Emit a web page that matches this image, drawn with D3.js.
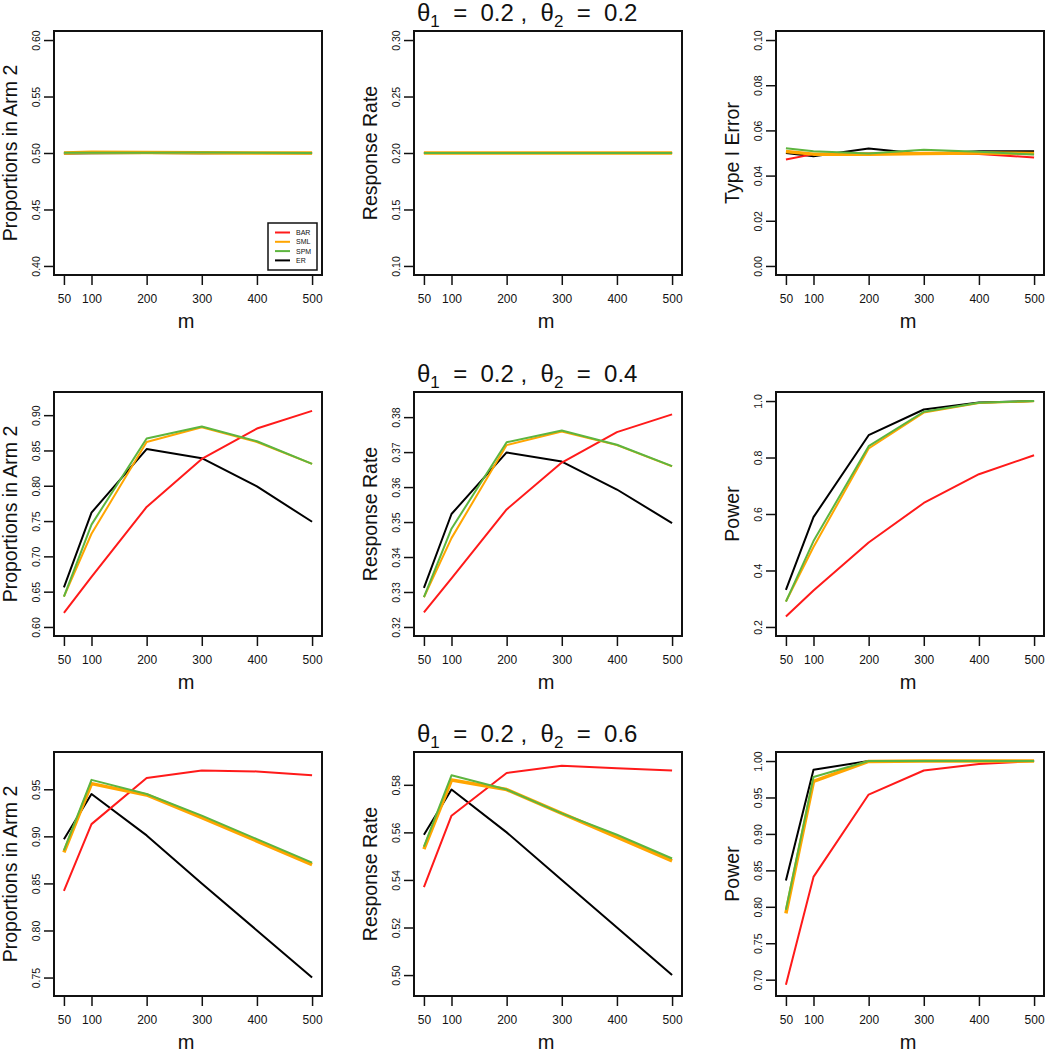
<!DOCTYPE html>
<html>
<head>
<meta charset="utf-8">
<script src="https://cdn.jsdelivr.net/npm/d3@7"></script>
<style>
body { margin: 0; background: #fff; }
svg text { font-family: "Liberation Sans", Arial, Helvetica, sans-serif; fill: #111; }
</style>
</head>
<body>
<div class="container"></div>
<script>
var mValues = [50, 100, 200, 300, 400, 500];
var methods = ['BAR', 'SML', 'SPM', 'ER'];
var theta1 = 0.2;
var theta2 = [0.2, 0.4, 0.6];
var colLabels = ['Proportions in Arm 2', 'Response Rate'];
var thirdLabels = ['Type I Error', 'Power', 'Power'];

// theta2 = 0.2  (rows: BAR, SML, SPM, ER)
var prop1 = [
  [0.5000, 0.5000, 0.5000, 0.5000, 0.5000, 0.5000],
  [0.5000, 0.5007, 0.5004, 0.5002, 0.5000, 0.5000],
  [0.5002, 0.5003, 0.5002, 0.5004, 0.5002, 0.5001],
  [0.4996, 0.4998, 0.4999, 0.4998, 0.4999, 0.4998]
];
var resp1 = [
  [0.2000, 0.2000, 0.2000, 0.2000, 0.2000, 0.2000],
  [0.2000, 0.2001, 0.2000, 0.2000, 0.2000, 0.2000],
  [0.2001, 0.2001, 0.2001, 0.2001, 0.2001, 0.2001],
  [0.2000, 0.2000, 0.2000, 0.2000, 0.2000, 0.2000]
];
var err1 = [
  [0.0471, 0.0495, 0.0498, 0.0498, 0.0496, 0.0480],
  [0.0507, 0.0495, 0.0495, 0.0498, 0.0500, 0.0498],
  [0.0521, 0.0508, 0.0498, 0.0514, 0.0505, 0.0493],
  [0.0500, 0.0486, 0.0520, 0.0496, 0.0508, 0.0508]
];
// theta2 = 0.4
var prop2 = [
  [0.620, 0.671, 0.770, 0.838, 0.881, 0.906],
  [0.643, 0.732, 0.862, 0.883, 0.862, 0.831],
  [0.643, 0.745, 0.867, 0.884, 0.863, 0.831],
  [0.656, 0.762, 0.852, 0.839, 0.799, 0.749]
];
var resp2 = [
  [0.3242, 0.3339, 0.3536, 0.3670, 0.3757, 0.3808],
  [0.3285, 0.3454, 0.3720, 0.3759, 0.3720, 0.3659],
  [0.3285, 0.3481, 0.3728, 0.3762, 0.3721, 0.3660],
  [0.3312, 0.3523, 0.3699, 0.3673, 0.3593, 0.3497]
];
var pow2 = [
  [0.237, 0.329, 0.499, 0.639, 0.741, 0.808],
  [0.290, 0.483, 0.832, 0.959, 0.993, 0.999],
  [0.290, 0.504, 0.840, 0.962, 0.994, 1.000],
  [0.331, 0.589, 0.879, 0.970, 0.995, 1.000]
];
// theta2 = 0.6
var prop3 = [
  [0.842, 0.913, 0.962, 0.970, 0.969, 0.965],
  [0.883, 0.956, 0.944, 0.920, 0.895, 0.870],
  [0.885, 0.960, 0.945, 0.922, 0.897, 0.872],
  [0.897, 0.945, 0.901, 0.850, 0.800, 0.750]
];
var resp3 = [
  [0.537, 0.567, 0.585, 0.588, 0.587, 0.586],
  [0.553, 0.582, 0.578, 0.568, 0.558, 0.548],
  [0.554, 0.584, 0.578, 0.568, 0.559, 0.549],
  [0.559, 0.578, 0.560, 0.540, 0.520, 0.500]
];
var pow3 = [
  [0.693, 0.841, 0.954, 0.987, 0.996, 1.000],
  [0.791, 0.972, 0.9995, 1.000, 1.000, 1.000],
  [0.796, 0.978, 1.000, 1.000, 1.000, 1.000],
  [0.836, 0.988, 1.000, 1.000, 1.000, 1.000]
];

// y limits and tick labels per panel
var ylims = [
  [[0.40, 0.60], [0.10, 0.30], [0.00, 0.10]],
  [[0.60, 0.92], [0.32, 0.3846], [0.20, 1.00]],
  [[0.74, 0.98], [0.495, 0.59], [0.69, 1.00]]
];
var yticks = [
  [['0.40', '0.45', '0.50', '0.55', '0.60'], ['0.10', '0.15', '0.20', '0.25', '0.30'], ['0.00', '0.02', '0.04', '0.06', '0.08', '0.10']],
  [['0.60', '0.65', '0.70', '0.75', '0.80', '0.85', '0.90'], ['0.32', '0.33', '0.34', '0.35', '0.36', '0.37', '0.38'], ['0.2', '0.4', '0.6', '0.8', '1.0']],
  [['0.75', '0.80', '0.85', '0.90', '0.95'], ['0.50', '0.52', '0.54', '0.56', '0.58'], ['0.70', '0.75', '0.80', '0.85', '0.90', '0.95', '1.00']]
];
var panels = [[prop1, resp1, err1], [prop2, resp2, pow2], [prop3, resp3, pow3]];

var colors = ['#ff1a1a', '#ffa500', '#5db53f', '#000000'];
var drawOrder = [3, 0, 1, 2]; // ER underneath, SPM on top

var colLeft = [54, 414, 776];
var rowTop = [31, 392, 752];
var boxW = 268, boxH = 244;

var svg = d3.select('.container')
    .append('svg')
    .attr('width', 1045)
    .attr('height', 1050);

function drawPanel(r, c) {
    var px = colLeft[c], py = rowTop[r];
    var lim = ylims[r][c];
    var ext = (lim[1] - lim[0]) * 0.04;
    var labels = yticks[r][c];

    var x = d3.scaleLinear().domain([32, 518]).range([px, px + boxW]);
    var y = d3.scaleLinear().domain([lim[0] - ext, lim[1] + ext]).range([py + boxH, py]);

    var g = svg.append('g');

    // x axis
    var xa = g.append('g')
        .attr('transform', 'translate(0,' + (py + boxH) + ')')
        .call(d3.axisBottom(x).tickValues(mValues).tickSize(10).tickPadding(9).tickFormat(d3.format('d')));
    xa.select('.domain').remove();
    xa.selectAll('line').style('stroke', '#111').style('stroke-width', 1.5);
    xa.selectAll('text').style('font-size', '12px').attr('fill', '#111');

    // y axis, labels turned like R does
    var ya = g.append('g')
        .attr('transform', 'translate(' + px + ',0)')
        .call(d3.axisLeft(y).tickValues(labels.map(Number)).tickSize(10).tickFormat(function (d, i) { return labels[i]; }));
    ya.select('.domain').remove();
    ya.selectAll('line').style('stroke', '#111').style('stroke-width', 1.5);
    ya.selectAll('text')
        .attr('transform', 'rotate(-90)')
        .attr('x', 0)
        .attr('y', -14.5)
        .attr('dy', 0)
        .attr('text-anchor', 'middle')
        .attr('fill', '#222')
        .style('font-size', '10.5px');

    // series
    var line = d3.line()
        .x(function (d, i) { return x(mValues[i]); })
        .y(function (d) { return y(d); });

    var series = drawOrder.map(function (k) { return { k: k, v: panels[r][c][k] }; });

    g.selectAll('path.series')
        .data(series)
        .enter()
        .append('path')
        .attr('class', 'series')
        .attr('d', function (d) { return line(d.v); })
        .style('fill', 'none')
        .style('stroke', function (d) { return colors[d.k]; })
        .style('stroke-width', function (d) { return (d.k == 1 && r != 1) ? 3.5 : 2; })
        .style('stroke-linejoin', 'round');

    // box
    g.append('rect')
        .attr('x', px)
        .attr('y', py)
        .attr('width', boxW)
        .attr('height', boxH)
        .style('fill', 'none')
        .style('stroke', '#111')
        .style('stroke-width', 2);

    // axis titles
    g.append('text')
        .attr('x', px + boxW / 2 - 2)
        .attr('y', py + boxH + 53)
        .attr('text-anchor', 'middle')
        .style('font-size', '20px')
        .text('m');

    var ylab = c < 2 ? colLabels[c] : thirdLabels[r];
    g.append('text')
        .attr('transform', 'translate(' + (px - 37) + ',' + (py + boxH / 2) + ') rotate(-90)')
        .attr('text-anchor', 'middle')
        .style('font-size', '19.5px')
        .text(ylab);

    // title over the middle column (plotmath style)
    if (c == 1) {
      var t = g.append('text')
          .attr('x', px + 3)
          .attr('y', py - 10)
          .style('font-size', '24px')
          .style('white-space', 'pre');
      t.append('tspan').text('\u03b8');
      t.append('tspan').attr('dy', 6).style('font-size', '17px').text('1');
      t.append('tspan').attr('dy', -6).text('  =  ' + theta1 + ' ,  \u03b8');
      t.append('tspan').attr('dy', 6).style('font-size', '17px').text('2');
      t.append('tspan').attr('dy', -6).text('  =  ' + theta2[r]);
    }

    // legend in the first panel
    if (r == 0 && c == 0) {
      var lx = px + boxW - 54, ly = py + boxH - 52;
      g.append('rect')
          .attr('x', lx)
          .attr('y', ly)
          .attr('width', 49)
          .attr('height', 47)
          .style('fill', '#fff')
          .style('stroke', '#111')
          .style('stroke-width', 1.5);
      var lg = g.selectAll('g.leg')
          .data(methods)
          .enter()
          .append('g')
          .attr('class', 'leg')
          .attr('transform', function (d, i) { return 'translate(' + lx + ',' + (ly + 9.5 + i * 9.3) + ')'; });
      lg.append('line')
          .attr('x1', 7).attr('x2', 22)
          .style('stroke', function (d, i) { return colors[i]; })
          .style('stroke-width', 2);
      lg.append('text')
          .attr('x', 28)
          .attr('dy', '0.35em')
          .style('font-size', '7px')
          .text(function (d) { return d; });
    }
}

for (var r = 0; r < 3; r++) {
  for (var c = 0; c < 3; c++) {
    drawPanel(r, c);
  }
}
</script>
</body>
</html>
